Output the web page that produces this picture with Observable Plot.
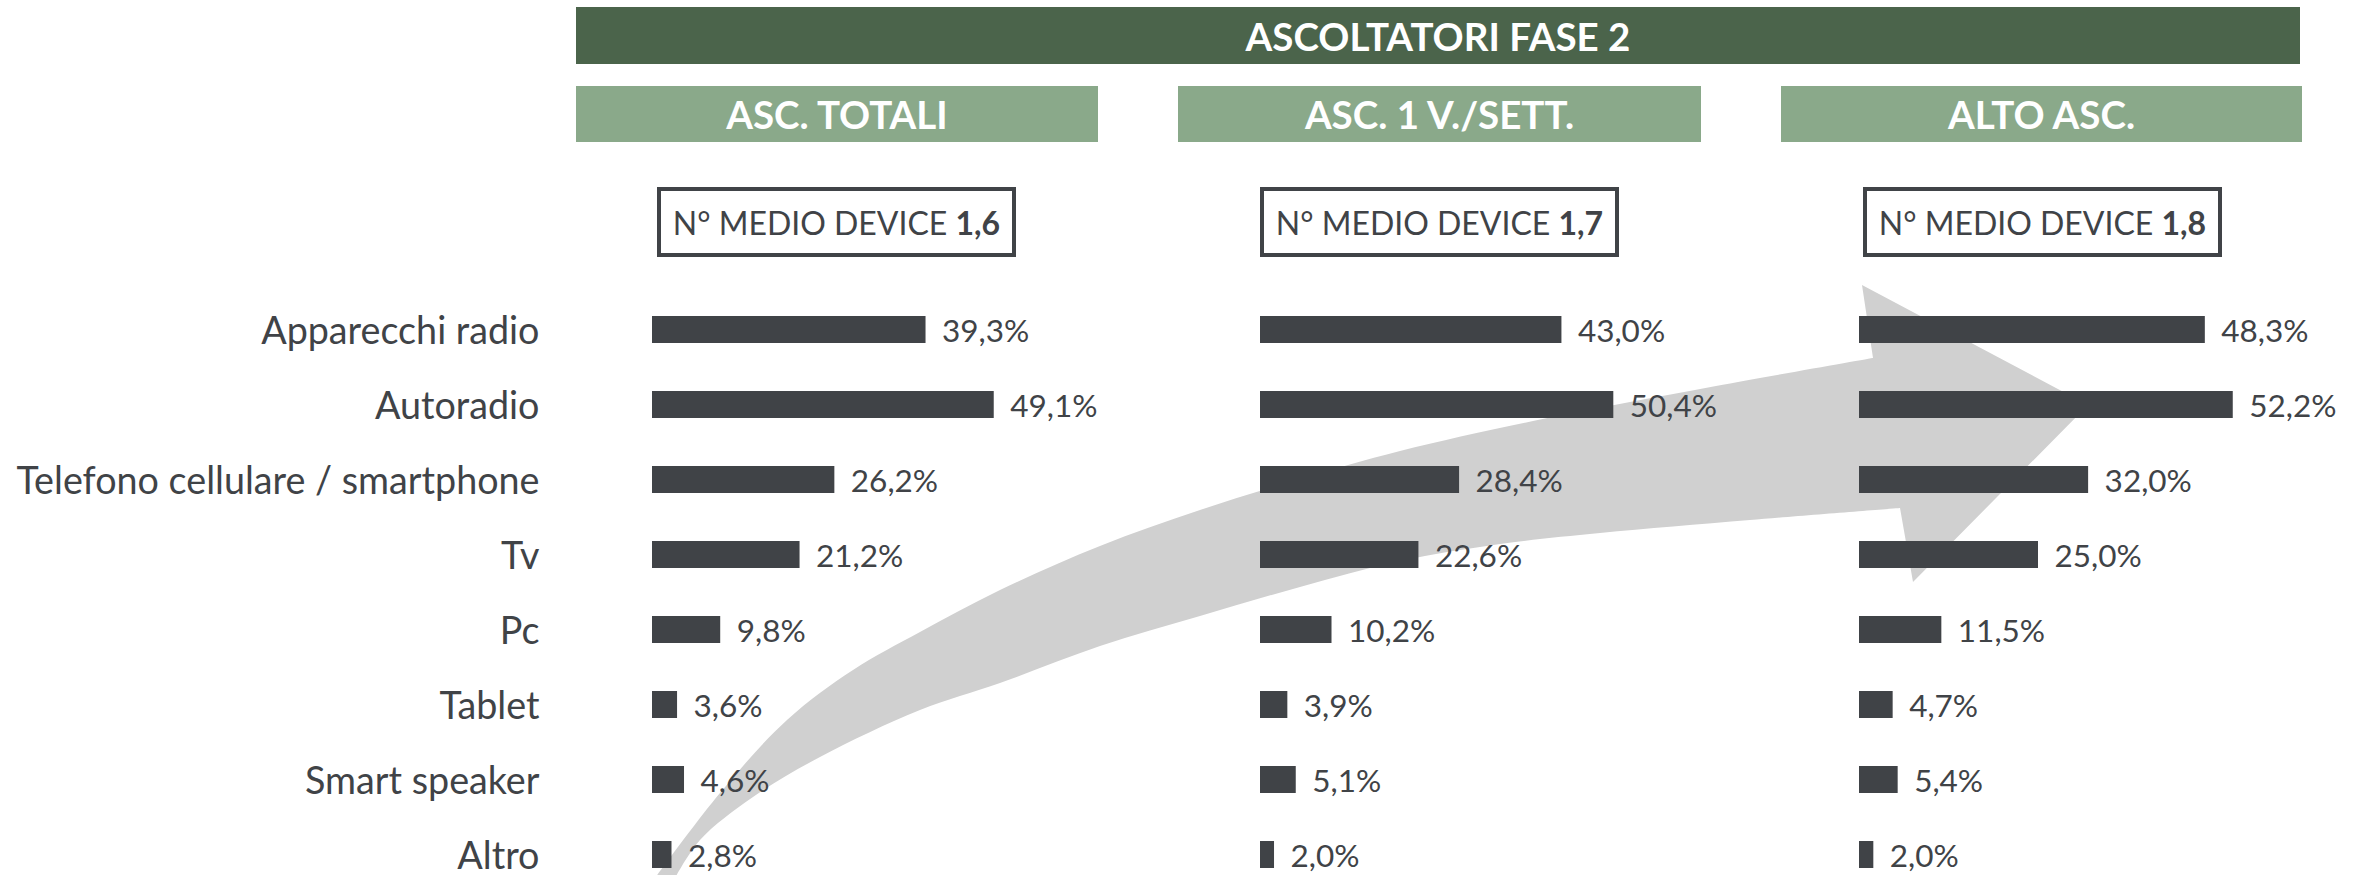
<!DOCTYPE html>
<html>
<head>
<meta charset="utf-8">
<script src="https://cdn.jsdelivr.net/npm/d3@7"></script>
<script src="https://cdn.jsdelivr.net/npm/@observablehq/plot@0.6"></script>
<style>
  html, body { margin: 0; padding: 0; background: #fff; }
  #root { position: relative; width: 2369px; height: 875px; overflow: hidden;
          font-family: Lato, "Noto Sans", sans-serif; color: #404347; }
  .abs { position: absolute; box-sizing: border-box; }
  .hdr { background: #4b644b; color: #fff; font-weight: 700; font-size: 38.5px;
         display: flex; align-items: center; justify-content: center; }
  .sub { background: #8aa98a; color: #fff; font-weight: 700; font-size: 38.5px;
         display: flex; align-items: center; justify-content: center; }
  .box { border: 4px solid #404347; background: #fff; font-size: 32px;
         display: flex; align-items: center; justify-content: center; white-space: nowrap; }
  .layer { position: absolute; left: 0; top: 0; }
</style>
</head>
<body>
<div id="root"></div>
<script>
// ---------- data ----------
const groupTitle = "ASCOLTATORI FASE 2";
const segments = ["ASC. TOTALI", "ASC. 1 V./SETT.", "ALTO ASC."];
const devicesLabel = "N° MEDIO DEVICE";
const avgDevices = [1.6, 1.7, 1.8];
const categories = ["Apparecchi radio", "Autoradio", "Telefono cellulare / smartphone", "Tv", "Pc", "Tablet", "Smart speaker", "Altro"];
const ascTotali = [39.3, 49.1, 26.2, 21.2, 9.8, 3.6, 4.6, 2.8];
const asc1Sett  = [43.0, 50.4, 28.4, 22.6, 10.2, 3.9, 5.1, 2.0];
const altoAsc   = [48.3, 52.2, 32.0, 25.0, 11.5, 4.7, 5.4, 2.0];
const series = [ascTotali, asc1Sett, altoAsc];

// ---------- layout ----------
const W = 2369, H = 875;
const ink = "#404347";
const colStart = [652, 1260, 1859];
const pxPerPct = [6.96, 7.01, 7.16];
const subBoxes = [[576, 1098], [1178, 1701], [1781, 2302]];
const boxLeft = [657, 1260, 1863];
const fmt = v => v.toFixed(1).replace(".", ",");

const root = document.getElementById("root");

// decorative arrow (background)
const upper = [[655,878],[720,793],[787,720],[853,670],[920,632],[1000,590],[1100,546],[1200,510],[1300,479],[1400,451],[1533,421],[1716,386],[1873,358]];
const head = [[1862,285],[2088,405],[1913,582],[1900,508]];
const lower = [[1900,508],[1750,520],[1600,533],[1500,544],[1400,561],[1300,587],[1200,616],[1100,646],[1000,683],[920,710],[820,757],[753,797],[700,840],[675,878]];
const line = d3.line().curve(d3.curveCatmullRom);
const arrowD = line(upper) + head.map(p => "L" + p.join(",")).join("") + line(lower).replace(/^M/, "L") + "Z";
const deco = d3.create("svg").attr("class", "layer").attr("width", W).attr("height", H);
deco.append("path").attr("d", arrowD).attr("fill", "#d0d0d0");
root.appendChild(deco.node());

// headers
const h = document.createElement("div");
h.className = "abs hdr";
Object.assign(h.style, {left: "576px", top: "7px", width: (2300 - 576) + "px", height: "57px"});
h.textContent = groupTitle;
root.appendChild(h);

segments.forEach((s, i) => {
  const d = document.createElement("div");
  d.className = "abs sub";
  Object.assign(d.style, {left: subBoxes[i][0] + "px", top: "86px", width: (subBoxes[i][1] - subBoxes[i][0]) + "px", height: "56px"});
  d.textContent = s;
  root.appendChild(d);

  const b = document.createElement("div");
  b.className = "abs box";
  Object.assign(b.style, {left: boxLeft[i] + "px", top: "187px", width: "359px", height: "70px"});
  b.innerHTML = devicesLabel + "&nbsp;<b>" + fmt(avgDevices[i]) + "</b>";
  root.appendChild(b);
});

// bar charts, one per segment (each with its own x scale)
series.forEach((vals, i) => {
  const rows = categories.map((c, k) => ({category: c, value: vals[k]}));
  const marks = [];
  if (i === 0) {
    marks.push(Plot.axisY({tickSize: 0, tickPadding: 113, fontSize: 37.7, dy: 2, color: ink, label: null}));
  }
  marks.push(
    Plot.barX(rows, {x: "value", y: "category", fill: ink}),
    Plot.text(rows, {x: "value", y: "category", text: d => fmt(d.value) + "%", dx: 16, dy: 2,
                     textAnchor: "start", fontSize: 31.5, fill: ink})
  );
  const chart = Plot.plot({
    width: W, height: H,
    marginLeft: 652, marginRight: 0, marginTop: 308, marginBottom: 0,
    style: {background: "transparent", fontFamily: "Lato, 'Noto Sans', sans-serif", overflow: "visible", maxWidth: "none"},
    x: {domain: [0, 100], range: [colStart[i], colStart[i] + 100 * pxPerPct[i]], axis: null},
    y: {domain: categories, range: [308, 875], paddingInner: 0.646, paddingOuter: 0.1, ...(i === 0 ? {} : {axis: null})},
    marks
  });
  chart.classList.add("layer");
  chart.style.position = "absolute";
  chart.style.left = "0px";
  chart.style.top = "0px";
  root.appendChild(chart);
});
</script>
</body>
</html>
